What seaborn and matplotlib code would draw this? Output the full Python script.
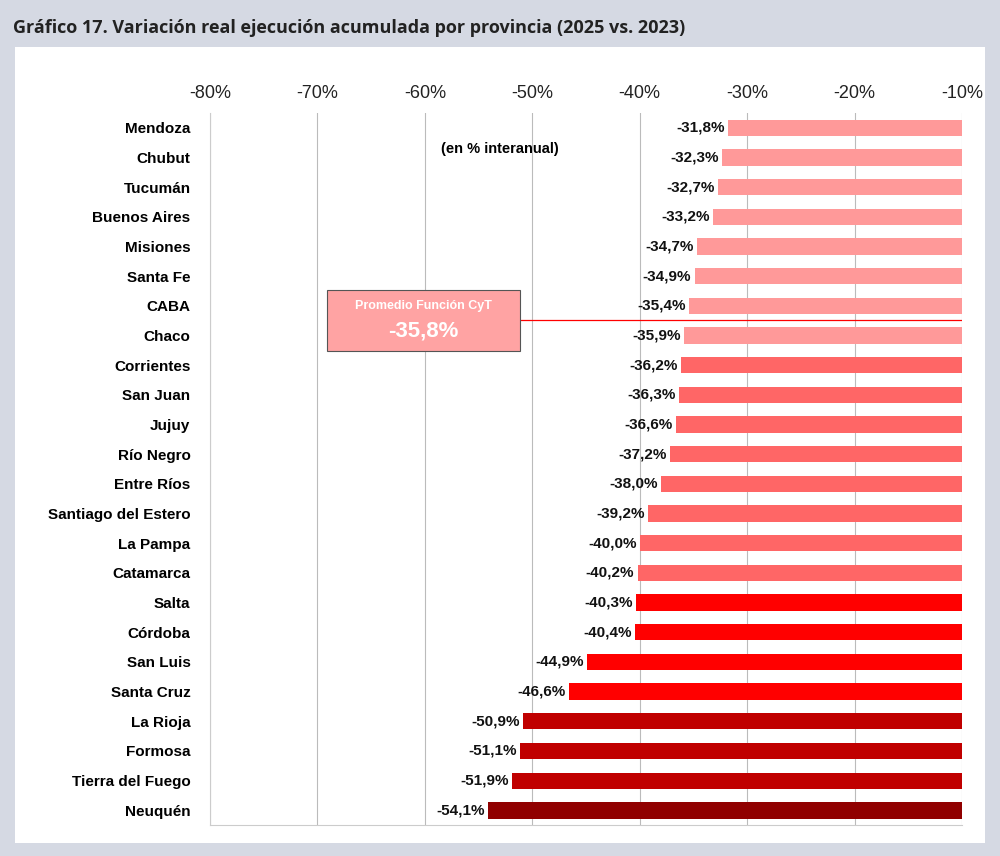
import matplotlib
matplotlib.use("Agg")
import matplotlib.pyplot as plt
import seaborn as sns
import pandas as pd
from matplotlib.patches import Rectangle
from matplotlib.ticker import FuncFormatter, FixedLocator

plt.rcParams["font.family"] = "Liberation Sans"

provincias = ["Mendoza","Chubut","Tucumán","Buenos Aires","Misiones","Santa Fe","CABA","Chaco",
              "Corrientes","San Juan","Jujuy","Río Negro","Entre Ríos","Santiago del Estero",
              "La Pampa","Catamarca","Salta","Córdoba","San Luis","Santa Cruz","La Rioja",
              "Formosa","Tierra del Fuego","Neuquén"]
valores = [-31.8,-32.3,-32.7,-33.2,-34.7,-34.9,-35.4,-35.9,-36.2,-36.3,-36.6,-37.2,-38.0,-39.2,
           -40.0,-40.2,-40.3,-40.4,-44.9,-46.6,-50.9,-51.1,-51.9,-54.1]
colores = ["#FF9999"]*8 + ["#FF6666"]*8 + ["#FF0000"]*4 + ["#C00000"]*3 + ["#900000"]
promedio = -35.8
base = -10
xticks = [-80,-70,-60,-50,-40,-30,-20,-10]

df = pd.DataFrame({"prov": provincias, "span": [v - base for v in valores]})

fig = plt.figure(figsize=(10, 8.56), dpi=100)
fig.patch.set_facecolor("#D5D9E3")
fig.add_artist(Rectangle((0.015, 0.015), 0.97, 0.93, transform=fig.transFigure,
                         facecolor="white", edgecolor="none", zorder=0))
fig.text(0.013, 0.967, "Gráfico 17. Variación real ejecución acumulada por provincia (2025 vs. 2023)",
         fontsize=13, fontweight="bold", color="#222222", va="center", family="Open Sans")

ax = fig.add_axes([0.21, 0.036, 0.752, 0.832])
sns.barplot(data=df, y="prov", x="span", hue="prov", palette=colores, legend=False,
            width=0.55, ax=ax, saturation=1, zorder=3)
ax.set_xlim(-70, 0)
ax.set_ylim(23.5, -0.5)
ax.xaxis.set_major_locator(FixedLocator([t - base for t in xticks]))
ax.xaxis.set_major_formatter(FuncFormatter(lambda x, p: f"{int(round(x + base))}%"))
ax.xaxis.tick_top()
ax.tick_params(axis="x", length=0, labelsize=13, colors="#222222", pad=8)
ax.tick_params(axis="y", length=0, labelsize=11, pad=14)
for lab in ax.get_yticklabels():
    lab.set_fontweight("bold")
ax.grid(axis="x", color="#BBBBBB", linewidth=0.8, zorder=0)
ax.set_xlabel(""); ax.set_ylabel("")
for s in ["top", "right"]:
    ax.spines[s].set_visible(False)
ax.spines["left"].set_color("#CCCCCC")
ax.spines["bottom"].set_color("#CCCCCC")

for i, v in enumerate(valores):
    ax.text(v - base - 0.3, i, f"{v:.1f}%".replace(".", ","), ha="right", va="center",
            fontsize=11, fontweight="bold", color="#111111", zorder=4)

ax.text(-43, 0.7, "(en % interanual)", fontsize=10.5, fontweight="bold", ha="center", va="center")

# promedio
ax.plot([-41.1, 0], [6.47, 6.47], color="#FF0000", linewidth=0.9, zorder=5)
ax.add_patch(Rectangle((-59.1, 5.46), 18, 2.05, facecolor="#FFA3A3", edgecolor="#555555",
                       linewidth=0.8, zorder=5))
ax.text(-50.1, 6.0, "Promedio Función CyT", color="white", fontsize=9, fontweight="bold",
        ha="center", va="center", zorder=6)
ax.text(-50.1, 6.85, f"{promedio:.1f}%".replace(".", ","), color="white", fontsize=16,
        fontweight="bold", ha="center", va="center", zorder=6)

fig.savefig("out.png", dpi=100)
